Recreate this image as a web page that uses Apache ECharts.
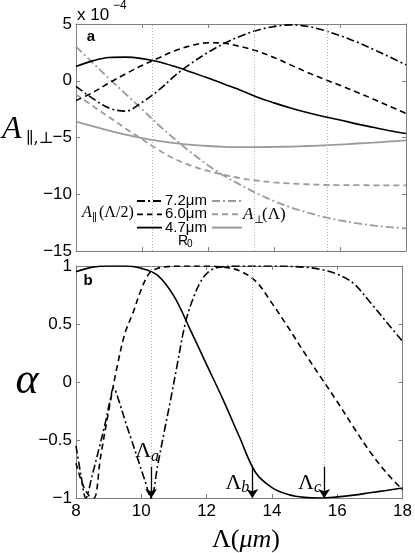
<!DOCTYPE html>
<html>
<head>
<meta charset="utf-8">
<script src="https://cdn.jsdelivr.net/npm/echarts@6/dist/echarts.min.js"></script>
<style>
html, body { margin: 0; padding: 0; background: #fff; }
#chart { width: 415px; height: 553px; }
</style>
</head>
<body>
<div id="chart"></div>
<script>
// panel a: A_par(Lambda/2) and A_perp(Lambda), units of 1e-4
const lamA = [8, 8.5, 9, 9.5, 10, 10.5, 11, 11.5, 12, 12.5, 13, 13.5, 14, 14.5, 15, 15.5, 16, 16.5, 17, 17.5, 18]
const parR47 = [1.25, 1.75, 2.05, 2.08, 1.95, 1.68, 1.25, 0.75, 0.25, -0.3, -0.85, -1.45, -1.95, -2.4, -2.8, -3.15, -3.45, -3.8, -4.1, -4.4, -4.65]
const parR60 = [-1.75, -1.05, -0.2, 0.6, 1.35, 2.0, 2.65, 3.1, 3.35, 3.3, 3.0, 2.6, 2.05, 1.4, 0.75, 0.15, -0.4, -1.0, -1.6, -2.25, -2.88]
const parR72 = [-0.5, -1.55, -2.4, -2.68, -1.9, -0.85, 0.45, 1.55, 2.5, 3.3, 3.95, 4.45, 4.78, 4.92, 4.8, 4.45, 3.98, 3.42, 2.78, 2.1, 1.4]
const perpR47 = [-3.6, -4.0, -4.4, -4.75, -5.05, -5.3, -5.5, -5.65, -5.75, -5.82, -5.85, -5.85, -5.83, -5.8, -5.75, -5.7, -5.62, -5.53, -5.45, -5.35, -5.25]
const perpR60 = [-1.2, -2.2, -3.2, -4.2, -5.15, -6.1, -6.9, -7.5, -7.95, -8.3, -8.6, -8.8, -8.95, -9.05, -9.12, -9.17, -9.2, -9.2, -9.21, -9.22, -9.22]
const perpR72 = [3.0, 1.6, 0.2, -1.15, -2.5, -3.9, -5.15, -6.35, -7.45, -8.4, -9.2, -9.95, -10.6, -11.15, -11.6, -12.0, -12.3, -12.55, -12.75, -12.9, -13.0]

// panel b: alpha
const lamB47 = [8, 8.5, 9, 9.5, 10, 10.5, 11, 11.5, 12, 12.5, 13, 13.5, 14, 14.5, 15, 15.5, 16, 16.5, 17, 17.5, 18]
const alphaR47 = [0.95, 0.99, 1.0, 1.0, 0.98, 0.92, 0.74, 0.45, 0.15, -0.15, -0.47, -0.78, -0.91, -0.97, -0.995, -1.0, -0.99, -0.975, -0.955, -0.935, -0.914]
const lamB60 = [8, 8.2, 8.4, 8.55, 8.75, 9.0, 9.25, 9.5, 9.75, 10.0, 10.25, 10.5, 10.8, 11.2, 12, 12.5, 13, 13.5, 14, 14.5, 15, 15.5, 16, 16.5, 17, 17.5, 18]
const alphaR60 = [-0.7, -0.88, -0.98, -1.0, -0.65, -0.25, 0.12, 0.42, 0.6, 0.8, 0.94, 0.98, 0.995, 1.0, 1.0, 0.99, 0.96, 0.87, 0.68, 0.47, 0.25, 0.04, -0.17, -0.39, -0.6, -0.78, -0.93]
const lamB72 = [8, 8.15, 8.3, 8.5, 8.7, 8.9, 9.05, 9.15, 9.3, 9.5, 9.7, 9.9, 10.1, 10.3, 10.5, 10.7, 10.9, 11.1, 11.35, 11.6, 11.85, 12.1, 12.4, 13, 14, 15, 15.5, 16, 16.5, 17, 17.5, 18]
const alphaR72 = [-0.55, -0.8, -1.0, -0.8, -0.58, -0.35, -0.15, -0.05, -0.15, -0.33, -0.5, -0.67, -0.84, -1.0, -0.72, -0.43, -0.15, 0.15, 0.51, 0.73, 0.88, 0.96, 0.99, 1.0, 1.0, 0.99, 0.97, 0.93, 0.85, 0.69, 0.52, 0.35]

const markLam = [10.3, 13.4, 15.6]
const markNames = ['a', 'b', 'c']
const arrowTop = -0.73
const legendNames = ['7.2μm', '6.0μm', '4.7μm']

const frame = '#7f7f7f'
const grayLine = '#9a9a9a'
const DASH = [6, 4]
const DASHDOT = [8, 3, 2, 3]
const minus = (v) => String(v).replace('-', '\u2212')

const zip = (xs, ys) => xs.map((x, i) => [x, ys[i]])

const chart = echarts.init(document.getElementById('chart'))

const xBase = {
  type: 'value', min: 8, max: 18, interval: 2,
  axisLine: { onZero: false, lineStyle: { color: frame, width: 1 } },
  axisTick: { inside: true, length: 4, lineStyle: { color: frame } },
  splitLine: { show: false },
}
const yBase = {
  type: 'value',
  axisLine: { show: true, onZero: false, lineStyle: { color: frame, width: 1 } },
  axisTick: { show: true, inside: true, length: 4, lineStyle: { color: frame } },
  splitLine: { show: false },
}
const tickFont = { color: '#000', fontSize: 17, fontFamily: 'Liberation Sans' }

const mkLine = (name, xs, ys, color, type, axis, extra) => Object.assign({
  name,
  type: 'line',
  xAxisIndex: axis,
  yAxisIndex: axis,
  data: zip(xs, ys),
  smooth: 0.35,
  showSymbol: false,
  silent: true,
  lineStyle: { color, width: color === '#000' ? 1.6 : 1.8, type },
  z: color === '#000' ? 4 : 3,
}, extra || {})

const dotted = {
  silent: true,
  symbol: 'none',
  label: { show: false },
  lineStyle: { color: '#b0b0b0', type: [1, 2], width: 1 },
  data: markLam.map((v) => ({ xAxis: v })),
}

chart.setOption({
  animation: false,
  backgroundColor: '#fff',
  grid: [
    { left: 76, top: 24, width: 330, height: 227 },
    { left: 76, top: 266, width: 330, height: 232 },
  ],
  xAxis: [
    { ...xBase, gridIndex: 0, position: 'bottom', axisLabel: { show: false } },
    { ...xBase, gridIndex: 1, position: 'bottom', axisLabel: { ...tickFont, margin: 5 } },
    { ...xBase, gridIndex: 0, position: 'top', axisLabel: { show: false } },
    { ...xBase, gridIndex: 1, position: 'top', axisLabel: { show: false } },
  ],
  yAxis: [
    { ...yBase, gridIndex: 0, min: -15, max: 5, interval: 5, axisLabel: { ...tickFont, margin: 4, formatter: minus } },
    { ...yBase, gridIndex: 1, min: -1, max: 1, interval: 0.5, axisLabel: { ...tickFont, margin: 4, formatter: minus } },
    { ...yBase, gridIndex: 0, position: 'right', min: -15, max: 5, interval: 5, axisLabel: { show: false } },
    { ...yBase, gridIndex: 1, position: 'right', min: -1, max: 1, interval: 0.5, axisLabel: { show: false } },
  ],
  series: [
    mkLine('perp 4.7', lamA, perpR47, grayLine, 'solid', 0),
    mkLine('perp 6.0', lamA, perpR60, grayLine, DASH, 0),
    mkLine('perp 7.2', lamA, perpR72, grayLine, DASHDOT, 0),
    mkLine('par 4.7', lamA, parR47, '#000', 'solid', 0, { markLine: dotted }),
    mkLine('par 6.0', lamA, parR60, '#000', DASH, 0),
    mkLine('par 7.2', lamA, parR72, '#000', DASHDOT, 0),
    mkLine('alpha 4.7', lamB47, alphaR47, '#000', 'solid', 1, { markLine: dotted }),
    mkLine('alpha 6.0', lamB60, alphaR60, '#000', DASH, 1, {
      markLine: {
        silent: true,
        symbol: ['none', 'arrow'],
        symbolSize: 9,
        label: { show: false },
        lineStyle: { color: '#000', type: 'solid', width: 1.3 },
        z: 10,
        data: markLam.map((v) => [
          { coord: [v, arrowTop], symbol: 'none' },
          { coord: [v, -1], symbol: 'arrow', symbolSize: 9 },
        ]),
      },
    }),
    mkLine('alpha 7.2', lamB72, alphaR72, '#000', DASHDOT, 1, {
      markPoint: {
        silent: true,
        symbol: 'circle',
        symbolSize: 0,
        data: markLam.map((v, i) => ({
          coord: i === 0 ? [v, arrowTop] : [v, -0.87],
          label: {
            show: true,
            position: i === 0 ? 'top' : 'left',
            distance: i === 0 ? 2 : 3,
            offset: i === 0 ? [-4, 0] : [0, 0],
            formatter: '{L|Λ}{s|' + markNames[i] + '}',
            rich: {
              L: { fontFamily: 'Liberation Serif', fontSize: 22, color: '#000' },
              s: { fontFamily: 'Liberation Serif', fontStyle: 'italic', fontSize: 16, color: '#000', padding: [10, 0, 0, 0] },
            },
          },
        })),
      },
    }),
  ],
  graphic: [
    { type: 'text', x: 91, y: 37, style: { text: 'a', font: 'bold 15px Liberation Sans', fill: '#000', align: 'center', verticalAlign: 'middle' } },
    { type: 'text', x: 88, y: 281, style: { text: 'b', font: 'bold 15px Liberation Sans', fill: '#000', align: 'center', verticalAlign: 'middle' } },
    { type: 'text', x: 77, y: 15, style: { text: 'x 10', font: '17px Liberation Sans', fill: '#000', verticalAlign: 'middle' } },
    { type: 'text', x: 113, y: 6, style: { text: '\u22124', font: '12px Liberation Sans', fill: '#000', verticalAlign: 'middle' } },
    { type: 'text', x: 2, y: 146, style: { text: 'A', font: 'italic 32px Liberation Serif', fill: '#000', verticalAlign: 'bottom' } },
    { type: 'text', x: 26, y: 147, style: { text: '\u2225,\u22a5', font: '16px DejaVu Serif', fill: '#000', verticalAlign: 'bottom' } },
    { type: 'text', x: 27, y: 381, style: { text: 'α', font: 'italic 44px Liberation Serif', fill: '#000', align: 'center', verticalAlign: 'middle' } },
    {
      type: 'text', x: 246, y: 540,
      style: {
        text: '{n|Λ(}{i|μm}{n|)}', align: 'center', verticalAlign: 'middle',
        rich: {
          n: { fontFamily: 'Liberation Serif', fontSize: 26, fill: '#000' },
          i: { fontFamily: 'Liberation Serif', fontStyle: 'italic', fontSize: 26, fill: '#000' },
        },
      },
    },
    // legend
    ...legendNames.flatMap((name, i) => {
      const y = 201 + i * 13.3
      const dash = [DASHDOT, DASH, null][i]
      return [
        { type: 'line', shape: { x1: 137, y1: y, x2: 162, y2: y }, style: { stroke: '#000', lineWidth: 1.8, lineDash: dash } },
        { type: 'text', x: 165, y: y, style: { text: name, font: '15px Liberation Sans', fill: '#000', verticalAlign: 'middle' } },
        { type: 'line', shape: { x1: 212, y1: y, x2: 242, y2: y }, style: { stroke: grayLine, lineWidth: 2, lineDash: dash } },
      ]
    }),
    { type: 'text', x: 178, y: 241, style: { text: 'R', font: '14px Liberation Sans', fill: '#000', verticalAlign: 'middle' } },
    { type: 'text', x: 187, y: 244, style: { text: '0', font: '10px Liberation Sans', fill: '#000', verticalAlign: 'middle' } },
    { type: 'text', x: 82, y: 213, style: { text: 'A', font: 'italic 16px Liberation Serif', fill: '#000', verticalAlign: 'middle' } },
    { type: 'text', x: 92, y: 218, style: { text: '\u2225', font: '11px DejaVu Serif', fill: '#000', verticalAlign: 'middle' } },
    { type: 'text', x: 99, y: 213, style: { text: '(Λ/2)', font: '16px Liberation Serif', fill: '#000', verticalAlign: 'middle' } },
    { type: 'text', x: 243, y: 215, style: { text: 'A', font: 'italic 17px Liberation Serif', fill: '#000', verticalAlign: 'middle' } },
    { type: 'text', x: 254, y: 220, style: { text: '\u22a5', font: '11px DejaVu Serif', fill: '#000', verticalAlign: 'middle' } },
    { type: 'text', x: 262, y: 215, style: { text: '(Λ)', font: '17px Liberation Serif', fill: '#000', verticalAlign: 'middle' } },
  ],
})

window.addEventListener('resize', () => chart.resize())
</script>
</body>
</html>
